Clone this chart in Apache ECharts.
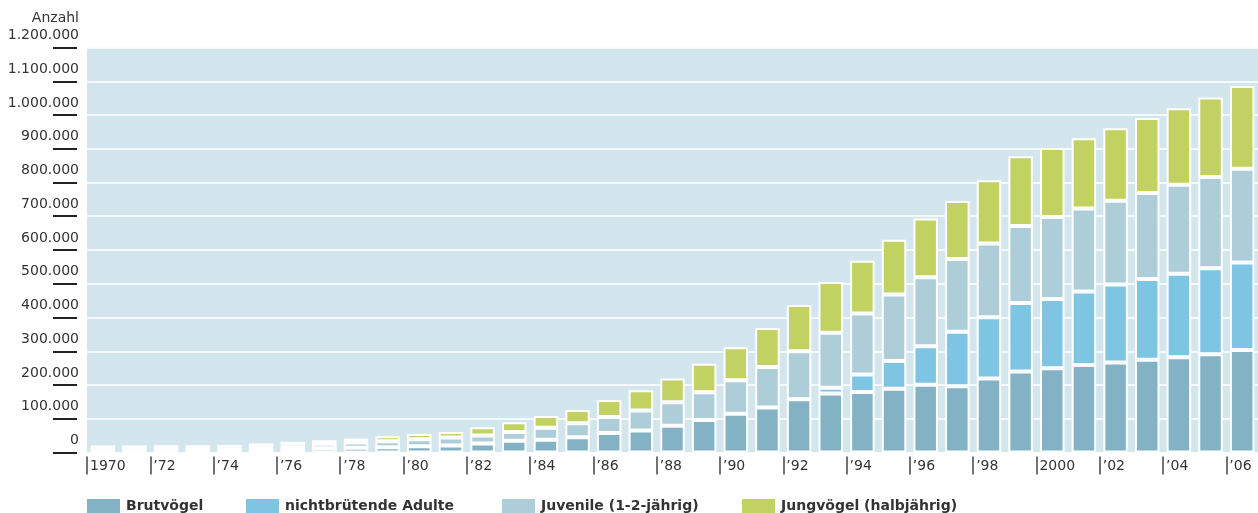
<!DOCTYPE html>
<html>
<head>
<meta charset="utf-8">
<script src="https://cdn.jsdelivr.net/npm/echarts@6/dist/echarts.min.js"></script>
<style>
html,body{margin:0;padding:0;background:#fff;}
#chart{width:1258px;height:513px;}
</style>
</head>
<body>
<div id="chart"></div>
<script>
const years = [1970,1971,1972,1973,1974,1975,1976,1977,1978,1979,1980,1981,1982,1983,1984,1985,1986,1987,1988,1989,1990,1991,1992,1993,1994,1995,1996,1997,1998,1999,2000,2001,2002,2003,2004,2005,2006];
const brutvoegel = [5000,5000,5000,5000,5500,6500,9000,12700,14200,15600,18300,20700,27000,35000,38000,45000,57500,65500,79000,96000,114500,133000,158000,175000,179000,189000,201000,196000,219000,240000,250000,259000,267000,275000,282000,291000,304000];
const nichtbruetend = [0,0,0,0,0,0,0,0,0,0,0,0,0,0,0,0,0,0,0,0,0,0,0,17000,52000,82000,114000,162000,182000,203000,205000,218000,231000,239000,248000,255000,259000];
const juvenile = [8000,8000,8000,8500,8500,10300,12000,13000,15300,17700,20700,23600,23700,25500,35000,42000,48000,59000,70000,82500,99500,120000,142000,163000,181000,197000,204000,215000,218000,228000,243000,246000,248000,255000,263000,270000,278000];
const jungvoegel = [8000,8000,8500,8000,8000,10200,10600,10600,11800,14700,16000,16200,24300,29500,35000,39000,50000,60000,70000,84500,98000,116000,137000,150000,156000,162000,174000,172000,188000,207000,204000,208000,215000,222000,227000,236000,245000];
const seriesNames = ['Brutvögel','nichtbrütende Adulte','Juvenile (1-2-jährig)','Jungvögel (halbjährig)'];
const xTickLabels = ['1970','\u201972','\u201974','\u201976','\u201978','\u201980','\u201982','\u201984','\u201986','\u201988','\u201990','\u201992','\u201994','\u201996','\u201998','2000','\u201902','\u201904','\u201906'];
const yAxisTitle = 'Anzahl';

const FONT = 'DejaVu Sans';
const colors = ['#82b2c3','#7ec5e4','#adcdd8','#c2d262'];

// boundary axis: one slot per category edge (years + one closing edge)
const edgeCats = [];
for (let i = 0; i <= years.length; i++) {
  edgeCats.push(i % 2 === 0 && xTickLabels[i / 2] !== undefined ? xTickLabels[i / 2] : '');
}

const chart = echarts.init(document.getElementById('chart'), null, {renderer:'canvas'});
const dataSets = [brutvoegel, nichtbruetend, juvenile, jungvoegel];
const legendLefts = [85, 244, 500, 740];

const option = {
  animation: false,
  grid: {left: 87, right: 0, top: 47.5, bottom: 60.5, show: true, backgroundColor: '#d3e6ed', borderWidth: 0, containLabel: false},
  xAxis: [
    {type:'category', data: years.map(String), boundaryGap: true,
     axisLine:{show:false}, axisTick:{show:false}, axisLabel:{show:false}, splitLine:{show:false}},
    {type:'category', data: edgeCats, boundaryGap: false, position:'bottom', offset: 4,
     axisLine:{show:false},
     axisTick:{show:true, interval:1, length:18, lineStyle:{color:'#444', width:1.5}},
     axisLabel:{interval:1, align:'left', margin:3, padding:[0,0,0,3], color:'#333', fontSize:14, fontFamily:FONT},
     splitLine:{show:false}}
  ],
  yAxis: {
    type:'value', min:0, max:1200000, interval:100000, offset:10,
    axisLine:{show:false},
    axisTick:{show:true, length:24, lineStyle:{color:'#222', width:2}},
    axisLabel:{margin:-2, verticalAlign:'bottom', padding:[0,0,5,0], color:'#333', fontSize:14, fontFamily:FONT,
      formatter: v => String(v).replace(/\B(?=(\d{3})+(?!\d))/g, '.')},
    splitLine:{show:true, lineStyle:{color:'#ffffff', width:1.5}}
  },
  legend: seriesNames.map((n, i) => ({
    left: legendLefts[i], top: 497, padding: 0, icon: 'rect', itemWidth: 35, itemHeight: 16,
    selectedMode: false, data: [n],
    textStyle: {fontFamily: FONT, fontSize: 14, fontWeight: 'bold', color: '#333'}
  })),
  graphic: [{type:'text', style:{text: yAxisTitle, x: 79, y: 18, align:'right', verticalAlign:'middle', fontFamily: FONT, fontSize: 14, fill:'#333'}}],
  series: seriesNames.map((n, i) => ({
    name: n, type:'bar', stack:'total', xAxisIndex: 0, barWidth: 24.5,
    itemStyle:{color: colors[i], borderColor:'#ffffff', borderWidth: 2},
    emphasis:{disabled:true},
    data: dataSets[i]
  }))
};
chart.setOption(option);
</script>
</body>
</html>
